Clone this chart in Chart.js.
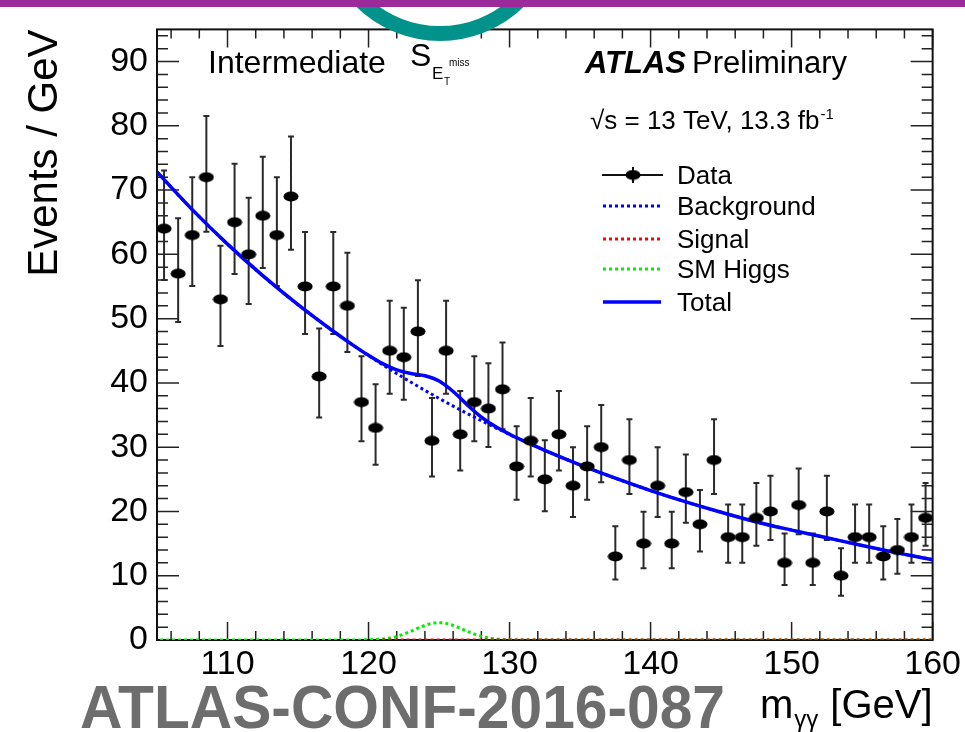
<!DOCTYPE html>
<html>
<head>
<meta charset="utf-8">
<title>m_yy, intermediate S_ET^miss category</title>
<script src="https://cdn.jsdelivr.net/npm/chart.js@4.4.0/dist/chart.umd.min.js"></script>
<style>
  html, body { margin: 0; padding: 0; background: #fff; }
  #wrap { width: 965px; height: 732px; position: relative; }
</style>
</head>
<body>
<div id="wrap"><canvas id="myChart"></canvas></div>
<script>
const FONT = '"Liberation Sans", Arial, Helvetica, sans-serif';

const xTicks = [110, 120, 130, 140, 150, 160];
const yTicks = [0, 10, 20, 30, 40, 50, 60, 70, 80, 90];

// data, one point per 1 GeV bin
const binMass = [105.5, 106.5, 107.5, 108.5, 109.5, 110.5, 111.5, 112.5, 113.5, 114.5,
                 115.5, 116.5, 117.5, 118.5, 119.5, 120.5, 121.5, 122.5, 123.5, 124.5,
                 125.5, 126.5, 127.5, 128.5, 129.5, 130.5, 131.5, 132.5, 133.5, 134.5,
                 135.5, 136.5, 137.5, 138.5, 139.5, 140.5, 141.5, 142.5, 143.5, 144.5,
                 145.5, 146.5, 147.5, 148.5, 149.5, 150.5, 151.5, 152.5, 153.5, 154.5,
                 155.5, 156.5, 157.5, 158.5, 159.5];
const events = [64, 57, 63, 72, 53, 65, 60, 66, 63, 69,
                55, 41, 55, 52, 37, 33, 45, 44, 48, 31,
                45, 32, 37, 36, 39, 27, 31, 25, 32, 24,
                27, 30, 13, 28, 15, 24, 15, 23, 18, 28,
                16, 16, 19, 20, 12, 21, 12, 20, 10, 16,
                16, 13, 14, 16, 19];

// background fit
const bgMass = [105, 107.5, 110, 112.5, 115, 117.5, 120, 122.5, 125, 127.5,
                130, 132.5, 135, 137.5, 140, 142.5, 145, 147.5, 150, 152.5,
                155, 157.5, 160];
const background = [72.83, 66.96, 61.59, 56.68, 52.17, 48.04, 44.25, 40.78, 37.59, 34.67,
                    31.98, 29.51, 27.25, 25.17, 23.25, 21.49, 19.87, 18.37, 17.10, 15.90,
                    14.70, 13.55, 12.50];

// total = background + signal + SM Higgs, finer around the peak
const totalMass = [105, 107.5, 110, 112.5, 115, 117.5, 119, 120, 121, 122,
                   123, 124, 125, 126, 127, 128, 129, 130, 131, 132.5,
                   135, 137.5, 140, 142.5, 145, 147.5, 150, 152.5, 155, 157.5,
                   160];
const total = [72.83, 66.96, 61.59, 56.68, 52.17, 48.04, 45.73, 44.29, 43.00, 42.02,
               41.47, 41.11, 40.29, 38.66, 36.58, 34.68, 33.20, 32.02, 30.97, 29.51,
               27.25, 25.17, 23.25, 21.49, 19.87, 18.37, 17.10, 15.90, 14.70, 13.55,
               12.50];

const higgsMass = [105, 119, 120, 120.5, 121, 121.5, 122, 122.5, 123, 123.5, 124, 124.5, 125,
                   125.5, 126, 126.5, 127, 127.5, 128, 128.5, 129, 129.5, 130, 131, 160];
const smHiggs = [0, 0, 0.04, 0.08, 0.17, 0.32, 0.57, 0.92, 1.35, 1.83, 2.27, 2.59, 2.7,
                 2.59, 2.27, 1.83, 1.35, 0.92, 0.57, 0.32, 0.17, 0.08, 0.04, 0, 0];

const signalMass = [121, 160];
const signal = [0, 0];

const legendLabels = ['Data', 'Background', 'Signal', 'SM Higgs', 'Total'];

const pts = (xs, ys) => xs.map((x, i) => ({ x: x, y: ys[i] }));

// filled marker, a bit wider than tall like in the plot
const dot = document.createElement('canvas');
dot.width = 16; dot.height = 11;
(function () {
  const d = dot.getContext('2d');
  d.fillStyle = '#000';
  d.beginPath();
  d.ellipse(8, 5.5, 7.5, 5, 0, 0, Math.PI * 2);
  d.fill();
})();

// frame with inward ticks on all four sides
const frame = {
  id: 'frame',
  beforeDatasetsDraw(chart) {
    const { ctx, chartArea: a, scales: { x, y } } = chart;
    ctx.save();
    ctx.strokeStyle = '#222';
    ctx.lineWidth = 1.5;
    ctx.beginPath();
    for (let m = 106; m <= 160; m += 2) {
      const px = x.getPixelForValue(m);
      const len = m % 10 === 0 ? 18 : 9;
      ctx.moveTo(px, a.bottom); ctx.lineTo(px, a.bottom - len);
      ctx.moveTo(px, a.top); ctx.lineTo(px, a.top + len);
    }
    for (let v = 2; v <= 94; v += 2) {
      const py = y.getPixelForValue(v);
      const len = v % 10 === 0 ? 22 : 11;
      ctx.moveTo(a.left, py); ctx.lineTo(a.left + len, py);
      ctx.moveTo(a.right, py); ctx.lineTo(a.right - len, py);
    }
    ctx.stroke();
    ctx.strokeStyle = '#111';
    ctx.lineWidth = 2;
    ctx.strokeRect(a.left, a.top, a.right - a.left, a.bottom - a.top);
    ctx.restore();
  }
};

// Poisson error bars on the data
const errorBars = {
  id: 'errorBars',
  beforeDatasetsDraw(chart) {
    const { ctx, scales: { x, y } } = chart;
    ctx.save();
    ctx.strokeStyle = '#2a2a2a';
    ctx.lineWidth = 2;
    ctx.beginPath();
    events.forEach((n, i) => {
      const px = x.getPixelForValue(binMass[i]);
      const top = y.getPixelForValue(n + Math.sqrt(n + 0.75) + 1);
      const bot = y.getPixelForValue(n - Math.sqrt(n - 0.25));
      ctx.moveTo(px, top); ctx.lineTo(px, bot);
      ctx.moveTo(px - 3, top); ctx.lineTo(px + 3, top);
      ctx.moveTo(px - 3, bot); ctx.lineTo(px + 3, bot);
    });
    ctx.stroke();
    ctx.restore();
  }
};

const texts = {
  id: 'texts',
  afterDraw(chart) {
    const ctx = chart.ctx;
    const ds = chart.data.datasets;
    ctx.save();
    ctx.fillStyle = '#000';
    ctx.textAlign = 'left';
    ctx.textBaseline = 'alphabetic';

    // category label
    ctx.font = `32px ${FONT}`;
    ctx.fillText('Intermediate', 208, 73);
    ctx.fillText('S', 410, 66);
    ctx.font = `17px ${FONT}`;
    ctx.fillText('E', 432, 79);
    ctx.font = `10px ${FONT}`;
    ctx.fillText('T', 444, 85);
    ctx.fillText('miss', 449, 66);

    // ATLAS label
    ctx.font = `italic bold 31px ${FONT}`;
    ctx.fillText('ATLAS', 585, 73);
    ctx.font = `31px ${FONT}`;
    ctx.fillText('Preliminary', 692, 73);

    ctx.font = `26px ${FONT}`;
    const lumi = '\u221As = 13 TeV, 13.3 fb';
    ctx.fillText(lumi, 590, 129);
    const lw = ctx.measureText(lumi).width;
    ctx.font = `15px ${FONT}`;
    ctx.fillText('-1', 590 + lw + 1, 119);

    // legend
    const rowY = [175, 206, 239, 269, 302];
    legendLabels.forEach((label, i) => {
      const d = ds[i];
      const yy = rowY[i];
      ctx.save();
      if (i === 0) {
        ctx.strokeStyle = '#111';
        ctx.lineWidth = 2;
        ctx.beginPath();
        ctx.moveTo(602, yy); ctx.lineTo(663, yy);
        ctx.moveTo(633, yy - 8); ctx.lineTo(633, yy + 8);
        ctx.stroke();
        ctx.drawImage(dot, 633 - 8, yy - 5.5);
      } else {
        ctx.strokeStyle = d.borderColor;
        ctx.lineWidth = d.borderWidth;
        ctx.setLineDash(d.borderDash || []);
        ctx.beginPath();
        ctx.moveTo(603, yy); ctx.lineTo(661, yy);
        ctx.stroke();
      }
      ctx.restore();
      ctx.font = `26px ${FONT}`;
      ctx.fillText(label, 677, yy + 9);
    });

    // x axis title, right aligned at the axis end
    const right = chart.chartArea.right;
    ctx.font = `40px ${FONT}`;
    const unit = '[GeV]';
    const uw = ctx.measureText(unit).width;
    ctx.fillText(unit, right - uw, 718);
    ctx.font = `24px ${FONT}`;
    const gw = ctx.measureText('\u03B3\u03B3').width;
    const gx = right - uw - 12 - gw;
    ctx.fillText('\u03B3\u03B3', gx, 727);
    ctx.font = `40px ${FONT}`;
    const mw = ctx.measureText('m').width;
    ctx.fillText('m', gx - mw - 1, 718);

    // slide decorations on top of the plot
    ctx.strokeStyle = '#00928b';
    ctx.lineWidth = 15;
    ctx.beginPath();
    ctx.arc(440, -79, 112.5, 0, Math.PI * 2);
    ctx.stroke();
    ctx.fillStyle = '#9b2a9b';
    ctx.fillRect(0, 0, 965, 7);

    const conf = 'ATLAS-CONF-2016-087';
    ctx.font = `bold 61px ${FONT}`;
    const cw = ctx.measureText(conf).width;
    ctx.fillStyle = '#6d6d6d';
    ctx.translate(80, 728);
    ctx.scale(645 / cw, 1);
    ctx.fillText(conf, 0, 0);
    ctx.restore();
  }
};

new Chart(document.getElementById('myChart'), {
  type: 'line',
  data: {
    datasets: [
      {
        type: 'scatter',
        label: legendLabels[0],
        data: pts(binMass, events),
        pointStyle: dot,
        pointRadius: 6,
        showLine: false,
        order: 0
      },
      {
        label: legendLabels[1],
        data: pts(bgMass, background),
        borderColor: '#0000ff',
        borderWidth: 3,
        borderDash: [3, 3],
        pointRadius: 0,
        cubicInterpolationMode: 'monotone',
        order: 2
      },
      {
        label: legendLabels[2],
        data: pts(signalMass, signal),
        borderColor: '#ff0000',
        borderWidth: 3,
        borderDash: [3, 3],
        pointRadius: 0,
        order: 3
      },
      {
        label: legendLabels[3],
        data: pts(higgsMass, smHiggs),
        borderColor: '#00ee00',
        borderWidth: 3,
        borderDash: [3, 3],
        borderDashOffset: 3,
        pointRadius: 0,
        cubicInterpolationMode: 'monotone',
        order: 4
      },
      {
        label: legendLabels[4],
        data: pts(totalMass, total),
        borderColor: '#0000ff',
        borderWidth: 3.5,
        pointRadius: 0,
        cubicInterpolationMode: 'monotone',
        order: 1
      }
    ]
  },
  options: {
    responsive: true,
    maintainAspectRatio: false,
    animation: false,
    layout: { padding: { top: 11, right: 30, left: 0, bottom: 0 } },
    plugins: { legend: { display: false }, tooltip: { enabled: false } },
    scales: {
      x: {
        type: 'linear',
        min: 105,
        max: 160,
        afterBuildTicks: axis => { axis.ticks = xTicks.map(v => ({ value: v })); },
        afterFit: axis => { axis.height = 92; },
        grid: { display: false, drawTicks: false },
        border: { display: false },
        ticks: { color: '#000', font: { family: FONT, size: 34 }, padding: 4, maxRotation: 0, autoSkip: false }
      },
      y: {
        min: 0,
        max: 95,
        afterBuildTicks: axis => { axis.ticks = yTicks.map(v => ({ value: v })); },
        afterFit: axis => { axis.width = 157; },
        grid: { display: false, drawTicks: false },
        border: { display: false },
        ticks: { color: '#000', font: { family: FONT, size: 34 }, padding: 9 },
        title: {
          display: true,
          text: 'Events / GeV',
          align: 'end',
          color: '#000',
          font: { family: FONT, size: 42 },
          padding: { top: 20, bottom: 0 }
        }
      }
    }
  },
  plugins: [frame, errorBars, texts]
});
</script>
</body>
</html>
